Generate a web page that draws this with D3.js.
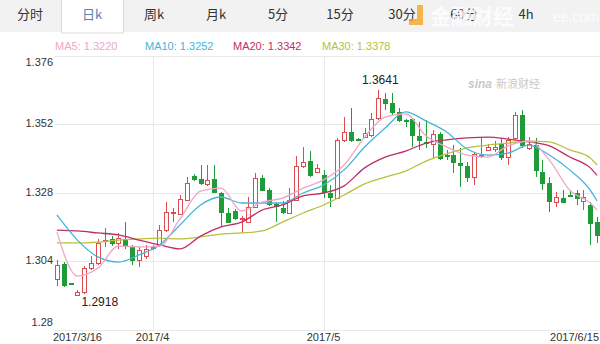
<!DOCTYPE html>
<html lang="zh">
<head>
<meta charset="utf-8">
<style>
    body { margin: 0; background: #fff; }
    svg { display: block; }
    text { font-family: "Liberation Sans", Arial, sans-serif; }
</style>
</head>
<body>
<svg width="600" height="344"></svg>
<script src="https://cdn.jsdelivr.net/npm/d3@7/dist/d3.min.js"></script>
<script>
    const svg = d3.select("svg");

    /************************************************************************************
    * Data
    ************************************************************************************/
    const tabs = ["分时", "日k", "周k", "月k", "5分", "15分", "30分", "60分", "4h"];
    const activeTab = 1;

    const yTicks = [1.376, 1.352, 1.328, 1.304, 1.28];
    const xTickIndex = [0, 14, 39, 79];
    const xTickLabels = ["2017/3/16", "2017/4", "2017/5", "2017/6/15"];
    const monthLines = [14, 39];

    // daily candles, one entry per trading day
    const open = [1.2979, 1.3031, 1.2963, 1.2924, 1.2933, 1.3017, 1.3035, 1.3114, 1.3119, 1.3105,
                  1.3119, 1.3091, 1.3045, 1.3059, 1.3089, 1.3098, 1.3150, 1.3212, 1.3206, 1.3256,
                  1.3340, 1.3329, 1.3312, 1.3329, 1.3280, 1.3210, 1.3217, 1.3189, 1.3178, 1.3231,
                  1.3333, 1.3291, 1.3242, 1.3228, 1.3210, 1.3256, 1.3375, 1.3392, 1.3354, 1.3343,
                  1.3280, 1.3263, 1.3466, 1.3494, 1.3469, 1.3476, 1.3483, 1.3543, 1.3609, 1.3595,
                  1.3564, 1.3536, 1.3539, 1.3480, 1.3457, 1.3452, 1.3487, 1.3413, 1.3413, 1.3385,
                  1.3375, 1.3336, 1.3411, 1.3431, 1.3434, 1.3452, 1.3406, 1.3473, 1.3553, 1.3438,
                  1.3448, 1.3354, 1.3315, 1.3249, 1.3263, 1.3273, 1.3280, 1.3252, 1.3238, 1.3178];
    const high = [1.3045, 1.3038, 1.2965, 1.2940, 1.3024, 1.3059, 1.3119, 1.3157, 1.3129, 1.3140,
                  1.3178, 1.3098, 1.3091, 1.3098, 1.3098, 1.3168, 1.3249, 1.3228, 1.3273, 1.3336,
                  1.3347, 1.3378, 1.3378, 1.3378, 1.3282, 1.3228, 1.3224, 1.3199, 1.3266, 1.3350,
                  1.3343, 1.3298, 1.3249, 1.3252, 1.3298, 1.3410, 1.3441, 1.3427, 1.3382, 1.3361,
                  1.3308, 1.3473, 1.3546, 1.3578, 1.3471, 1.3508, 1.3560, 1.3641, 1.3630, 1.3630,
                  1.3578, 1.3539, 1.3543, 1.3529, 1.3536, 1.3501, 1.3494, 1.3431, 1.3448, 1.3438,
                  1.3389, 1.3424, 1.3473, 1.3452, 1.3462, 1.3473, 1.3476, 1.3564, 1.3571, 1.3476,
                  1.3473, 1.3396, 1.3336, 1.3284, 1.3291, 1.3291, 1.3291, 1.3291, 1.3249, 1.3196];
    const low = [1.2954, 1.2951, 1.2958, 1.2918, 1.2926, 1.3010, 1.3028, 1.3091, 1.3094, 1.3084,
                 1.3084, 1.3028, 1.3021, 1.3049, 1.3080, 1.3091, 1.3143, 1.3178, 1.3203, 1.3252,
                 1.3322, 1.3308, 1.3304, 1.3280, 1.3161, 1.3175, 1.3185, 1.3140, 1.3175, 1.3228,
                 1.3287, 1.3234, 1.3178, 1.3206, 1.3206, 1.3252, 1.3368, 1.3336, 1.3350, 1.3263,
                 1.3231, 1.3259, 1.3459, 1.3459, 1.3466, 1.3473, 1.3476, 1.3536, 1.3571, 1.3553,
                 1.3529, 1.3511, 1.3441, 1.3431, 1.3438, 1.3403, 1.3396, 1.3396, 1.3350, 1.3301,
                 1.3319, 1.3308, 1.3403, 1.3427, 1.3424, 1.3396, 1.3378, 1.3466, 1.3438, 1.3431,
                 1.3336, 1.3291, 1.3213, 1.3231, 1.3245, 1.3266, 1.3238, 1.3220, 1.3098, 1.3105];
    const close = [1.3028, 1.2958, 1.2960, 1.2933, 1.3017, 1.3035, 1.3105, 1.3117, 1.3105, 1.3122,
                   1.3098, 1.3045, 1.3080, 1.3084, 1.3091, 1.3150, 1.3213, 1.3215, 1.3259, 1.3315,
                   1.3329, 1.3315, 1.3326, 1.3284, 1.3213, 1.3178, 1.3192, 1.3191, 1.3231, 1.3333,
                   1.3291, 1.3242, 1.3234, 1.3213, 1.3256, 1.3375, 1.3389, 1.3343, 1.3368, 1.3284,
                   1.3266, 1.3466, 1.3494, 1.3466, 1.3467, 1.3490, 1.3539, 1.3613, 1.3595, 1.3564,
                   1.3536, 1.3534, 1.3483, 1.3466, 1.3455, 1.3487, 1.3403, 1.3411, 1.3389, 1.3378,
                   1.3336, 1.3417, 1.3413, 1.3441, 1.3441, 1.3406, 1.3466, 1.3553, 1.3448, 1.3452,
                   1.3361, 1.3315, 1.3252, 1.3266, 1.3249, 1.3271, 1.3263, 1.3266, 1.3175, 1.3133];

    // moving averages at every third day
    const maIndex = [0, 3, 6, 9, 12, 15, 18, 21, 24, 27, 30, 33, 36, 39, 42, 45, 48, 51, 54, 57,
                     60, 63, 66, 69, 72, 75, 78, 79];
    const ma5 = [1.3143, 1.2989, 1.3017, 1.3094, 1.3091, 1.3094, 1.3189, 1.3287, 1.3297, 1.3217,
                 1.3248, 1.3262, 1.3297, 1.3326, 1.3378, 1.3476, 1.3546, 1.3557, 1.3480, 1.3441,
                 1.3413, 1.3406, 1.3445, 1.3462, 1.3396, 1.3290, 1.3245, 1.3220];
    const ma10 = [1.3203, 1.3115, 1.3056, 1.3038, 1.3063, 1.3098, 1.3168, 1.3238, 1.3266, 1.3245,
                  1.3245, 1.3245, 1.3280, 1.3308, 1.3361, 1.3441, 1.3508, 1.3564, 1.3532, 1.3494,
                  1.3434, 1.3413, 1.3420, 1.3448, 1.3413, 1.3361, 1.3290, 1.3252];
    const ma20 = [1.3150, 1.3147, 1.3140, 1.3133, 1.3115, 1.3098, 1.3084, 1.3129, 1.3161, 1.3178,
                  1.3220, 1.3238, 1.3270, 1.3280, 1.3305, 1.3368, 1.3406, 1.3427, 1.3455, 1.3466,
                  1.3473, 1.3476, 1.3469, 1.3459, 1.3445, 1.3406, 1.3368, 1.3342];
    const ma30 = [1.3105, 1.3105, 1.3108, 1.3115, 1.3119, 1.3122, 1.3119, 1.3126, 1.3136, 1.3140,
                  1.3147, 1.3178, 1.3210, 1.3238, 1.3273, 1.3312, 1.3336, 1.3357, 1.3392, 1.3417,
                  1.3438, 1.3448, 1.3455, 1.3462, 1.3459, 1.3431, 1.3403, 1.3378];

    const maNames = ["MA5", "MA10", "MA20", "MA30"];
    const maLast = ["1.3220", "1.3252", "1.3342", "1.3378"];

    /************************************************************************************
    * Scales
    ************************************************************************************/
    const plotTop = 56, plotBottom = 330, plotLeft = 55, plotRight = 600;
    const x = d3.scaleBand().domain(d3.range(open.length)).range([53.5, 600.5])
        .paddingInner(0.3).paddingOuter(0.15);
    const cx = i => x(i) + x.bandwidth() / 2;
    const y = d3.scaleLinear().domain([1.28, 1.376]).range([plotBottom, plotTop]);

    const maColors = ["#eea6c8", "#45b5d8", "#be2f66", "#b9c03c"];
    const upColor = "#dd4b52", downColor = "#1f9b38";

    /************************************************************************************
    * Tab bar
    ************************************************************************************/
    const tabW = 62;
    svg.append("rect").attr("width", 600).attr("height", 32).attr("fill", "#f2f2f2");
    svg.append("rect")
        .attr("x", activeTab * tabW - 0.5).attr("y", -1)
        .attr("width", tabW).attr("height", 34)
        .attr("fill", "#fff").attr("stroke", "#dcdcdc");

    svg.append("g").selectAll("text").data(tabs).join("text")
        .attr("x", (d, i) => 30 + i * tabW)
        .attr("y", 15)
        .attr("text-anchor", "middle")
        .attr("dominant-baseline", "middle")
        .style("font-family", "'Noto Sans CJK SC'")
        .style("font-size", "13px")
        .attr("fill", (d, i) => i === activeTab ? "#5a84b0" : "#333")
        .text(d => d);

    // jrj watermark lying over the tabs
    const wm = svg.append("g").attr("opacity", 0.8);
    wm.append("path")
        .attr("d", "M417,5 h6 v20 h-14 v-6 h8 z")
        .attr("fill", "#f5a623");
    wm.append("text").attr("x", 430).attr("y", 24)
        .style("font-family", "'Noto Sans CJK SC'").style("font-size", "21px").style("font-weight", "bold")
        .attr("fill", "#fff").text("金融财经");
    wm.append("text").attr("x", 553).attr("y", 22)
        .style("font-size", "14px").attr("fill", "#fff").text("ee.com");

    /************************************************************************************
    * Legend
    ************************************************************************************/
    const legendX = [55, 145, 233, 322];
    svg.append("g").selectAll("text").data(maNames).join("text")
        .attr("x", (d, i) => legendX[i])
        .attr("y", 47)
        .attr("dominant-baseline", "middle")
        .style("font-size", "11px")
        .attr("fill", (d, i) => maColors[i])
        .text((d, i) => `${d}: ${maLast[i]}`);

    /************************************************************************************
    * Grid and axes
    ************************************************************************************/
    const grid = svg.append("g").attr("stroke", "#e9e9e9").attr("shape-rendering", "crispEdges");
    grid.selectAll(".h").data(yTicks).join("line")
        .attr("x1", plotLeft).attr("x2", plotRight)
        .attr("y1", d => Math.round(y(d)) + 0.5).attr("y2", d => Math.round(y(d)) + 0.5);
    grid.selectAll(".v").data(monthLines).join("line")
        .attr("x1", d => Math.round(cx(d)) + 0.5).attr("x2", d => Math.round(cx(d)) + 0.5)
        .attr("y1", plotTop).attr("y2", plotBottom);

    svg.append("g").selectAll("text").data(yTicks).join("text")
        .attr("x", 53)
        .attr("y", d => Math.min(Math.max(y(d), plotTop + 7), plotBottom - 7))
        .attr("text-anchor", "end")
        .attr("dominant-baseline", "middle")
        .style("font-size", "11px")
        .attr("fill", "#333")
        .text(d => d);

    svg.append("g").selectAll("text").data(xTickIndex).join("text")
        .attr("x", (d, i) => i === 0 ? 53 : (i === xTickIndex.length - 1 ? 599 : cx(d)))
        .attr("y", 338)
        .attr("text-anchor", (d, i) => i === 0 ? "start" : (i === xTickIndex.length - 1 ? "end" : "middle"))
        .attr("dominant-baseline", "middle")
        .style("font-size", "11px")
        .attr("fill", "#333")
        .text((d, i) => xTickLabels[i]);

    // sina watermark
    const sina = svg.append("g").attr("fill", "#c9c9c9");
    sina.append("text").attr("x", 468).attr("y", 88)
        .style("font-size", "12px").style("font-style", "italic").style("font-weight", "bold").text("sina");
    sina.append("text").attr("x", 496).attr("y", 88)
        .style("font-family", "'Noto Sans CJK SC'").style("font-size", "11px").text("新浪财经");

    /************************************************************************************
    * Candles
    ************************************************************************************/
    const candles = d3.range(open.length).map(i => ({ i, o: open[i], h: high[i], l: low[i], c: close[i] }));
    const isUp = d => d.c > d.o;
    const col = d => isUp(d) ? upColor : downColor;

    const cg = svg.append("g").attr("shape-rendering", "crispEdges");
    cg.selectAll("line").data(candles).join("line")
        .attr("x1", d => Math.round(cx(d.i)) + 0.5).attr("x2", d => Math.round(cx(d.i)) + 0.5)
        .attr("y1", d => y(d.h)).attr("y2", d => y(d.l))
        .attr("stroke", col);
    cg.selectAll("rect").data(candles).join("rect")
        .attr("x", d => Math.round(cx(d.i)) - 2 + 0.5)
        .attr("width", 4)
        .attr("y", d => Math.round(y(Math.max(d.o, d.c))) + 0.5)
        .attr("height", d => Math.max(0.5, Math.round(Math.abs(y(d.o) - y(d.c)))))
        .attr("fill", d => isUp(d) ? "#fff" : downColor)
        .attr("stroke", col);

    /************************************************************************************
    * Moving averages
    ************************************************************************************/
    const line = d3.line()
        .x((v, k) => cx(maIndex[k]))
        .y(v => y(v))
        .curve(d3.curveMonotoneX);
    svg.append("g").selectAll("path").data([ma30, ma20, ma10, ma5]).join("path")
        .attr("d", line)
        .attr("fill", "none")
        .attr("stroke-width", 1.3)
        .attr("stroke", (d, k) => maColors[3 - k]);

    /************************************************************************************
    * High / low labels
    ************************************************************************************/
    const hiIdx = d3.maxIndex(high), loIdx = d3.minIndex(low);
    svg.append("text")
        .attr("x", cx(hiIdx) + 2).attr("y", y(high[hiIdx]) - 9)
        .attr("text-anchor", "middle").attr("dominant-baseline", "middle")
        .style("font-size", "12px").attr("fill", "#222")
        .text(high[hiIdx].toFixed(4));
    svg.append("text")
        .attr("x", cx(loIdx) + 4).attr("y", y(low[loIdx]) + 7)
        .attr("dominant-baseline", "middle")
        .style("font-size", "12px").attr("fill", "#222")
        .text(low[loIdx].toFixed(4));
</script>
</body>
</html>
